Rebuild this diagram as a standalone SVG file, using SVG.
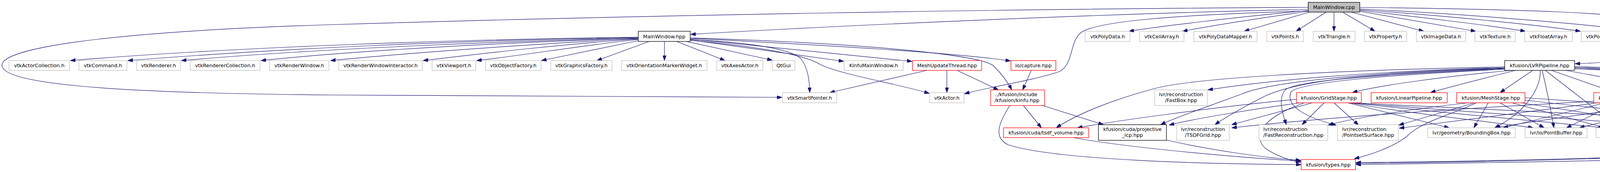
<svg xmlns="http://www.w3.org/2000/svg" width="5042" height="440" viewBox="0 0 5042 440">
<style>
rect{stroke-width:1.3}
.g rect{fill:#fff;stroke:#bfbfbf}
.r rect{fill:#fff;stroke:#ff0000}
.b rect{fill:#fff;stroke:#000}
.root rect{fill:#bfbfbf;stroke:#000}
text{font-family:"DejaVu Sans","Liberation Sans",sans-serif;font-size:12.8px;fill:#000;text-anchor:middle}
text.l{text-anchor:start}
#edges path{fill:none;stroke:#191970;stroke-width:1.2;marker-end:url(#a)}
</style>
<defs>
<marker id="a" markerWidth="13" markerHeight="9" refX="13" refY="4.5" orient="auto" markerUnits="userSpaceOnUse">
<path d="M0,0 L13,4.5 L0,9 z" fill="#191970" stroke="#191970" stroke-width="1"/>
</marker>
</defs>
<rect width="5042" height="440" fill="#fff"/>
<g id="edges">
<path d="M3349,24 C2900,33 2200,62 1768,88"/>
<path d="M3349,19 C2600,22 1600,40 850,63 C250,82 5,125 5,167 C5,212 250,238 850,243 C1300,247 1700,249 2002,249"/>
<path d="M3349,28 C3000,38 2800,55 2765,85 C2738,110 2748,165 2712,183 C2650,205 2520,225 2469,240"/>
<path d="M3349,27 C3150,45 2950,70 2890,80"/>
<path d="M3349,29 C3200,50 3080,70 3027,80"/>
<path d="M3352,31 L3185,80"/>
<path d="M3395,31 L3318,80"/>
<path d="M3415,31 L3415,80"/>
<path d="M3437,31 L3520,80"/>
<path d="M3459,31 L3645,80"/>
<path d="M3481,29 L3778,80"/>
<path d="M3481,27 C3650,45 3850,70 3905,80"/>
<path d="M3481,25 C3700,40 3950,65 4046,80"/>
<path d="M3481,23 C3750,35 4100,65 4192,80"/>
<path d="M3481,19 C3900,24 4150,32 4250,55 C4330,75 4330,115 4250,140 C4180,155 4080,162 4032,163"/>
<path d="M1634,95 C1200,100 600,120 180,155"/>
<path d="M1634,96 C1200,102 700,125 327,155"/>
<path d="M1634,97 C1300,105 800,125 464,155"/>
<path d="M1634,98 C1300,108 900,130 668,155"/>
<path d="M1634,99 C1400,110 1050,135 846,155"/>
<path d="M1634,100 C1450,112 1250,135 1083,155"/>
<path d="M1634,101 C1500,115 1350,140 1220,155"/>
<path d="M1634,104 L1386,155"/>
<path d="M1662,106 L1528,155"/>
<path d="M1701,106 L1701,155"/>
<path d="M1732,106 L1856,155"/>
<path d="M1757,106 L1977,154"/>
<path d="M1767,102 L2160,157"/>
<path d="M1767,100 L2335,157"/>
<path d="M1767,98 C2100,115 2450,135 2587,156"/>
<path d="M1767,97 C2200,110 2520,140 2545,170 C2565,190 2580,210 2590,230"/>
<path d="M1767,101 C1950,110 2030,130 2050,150 C2070,175 2072,210 2073,237"/>
<path d="M1767,103 C1950,120 2060,140 2100,165 C2150,190 2300,215 2379,239"/>
<path d="M2373,180 L2124,237"/>
<path d="M2424,180 L2424,237"/>
<path d="M2450,180 L2556,230"/>
<path d="M2640,180 L2618,230"/>
<path d="M2620,270 L2666,327"/>
<path d="M2669,270 L2825,319"/>
<path d="M2585,270 C2560,310 2540,350 2580,370 C2700,410 3100,420 3331,421"/>
<path d="M2748,352 C2900,380 3200,405 3330,412"/>
<path d="M2986,358 C3100,385 3250,405 3330,410"/>
<path d="M3852,171 C3400,180 3050,200 2954,227 C2850,255 2760,290 2704,327"/>
<path d="M3852,173 C3500,183 3250,205 3092,230"/>
<path d="M3852,174 C3500,185 3250,210 3180,240 C3100,270 3010,300 2971,319"/>
<path d="M3852,175 C3500,188 3330,205 3240,245 C3180,275 3130,305 3110,319"/>
<path d="M3852,176 C3550,190 3320,205 3290,230 C3270,255 3285,295 3293,319"/>
<path d="M3852,177 C3550,192 3330,210 3305,235 C3290,270 3340,300 3421,320"/>
<path d="M3870,180 C3700,195 3520,220 3462,237"/>
<path d="M3880,180 C3800,200 3700,225 3662,237"/>
<path d="M3924,180 L3840,237"/>
<path d="M3943,180 C3945,230 3900,290 3826,327"/>
<path d="M3948,180 C3960,230 3970,280 3978,327"/>
<path d="M3956,180 L4146,327"/>
<path d="M3972,180 L4135,237"/>
<path d="M4008,180 L4323,237"/>
<path d="M4031,172 C4250,180 4450,200 4500,240 C4530,270 4470,305 4416,327"/>
<path d="M4031,174 C4300,185 4500,205 4540,235 C4580,265 4600,295 4614,319"/>
<path d="M4031,176 C4400,190 4700,240 4898,327"/>
<path d="M4031,170 C4500,185 5040,250 5040,327 C5040,345 5030,358 5015,363 C4900,395 4300,410 3471,421"/>
<path d="M3319,254 C3100,275 2850,310 2758,327"/>
<path d="M3330,263 C3200,280 3050,305 2993,320"/>
<path d="M3360,263 L3153,319"/>
<path d="M3390,263 L3333,319"/>
<path d="M3415,263 L3478,320"/>
<path d="M3450,263 L3710,327"/>
<path d="M3340,263 C3230,300 3205,350 3240,380 C3270,400 3300,410 3330,415"/>
<path d="M3455,263 C3600,290 3850,315 3925,327"/>
<path d="M3458,263 C3700,290 4000,315 4105,327"/>
<path d="M3460,263 C3800,290 4200,315 4300,327"/>
<path d="M3462,263 C3900,285 4400,305 4518,322"/>
<path d="M3760,263 C3600,280 3450,305 3400,320"/>
<path d="M3775,263 L3581,320"/>
<path d="M3780,263 C3700,300 3640,310 3600,350 C3560,380 3500,398 3467,406"/>
<path d="M3810,263 L3773,327"/>
<path d="M3840,263 L3953,327"/>
<path d="M3870,263 L4110,327"/>
<path d="M3894,263 L4303,327"/>
<path d="M3904,256 C4100,280 4400,305 4519,321"/>
<path d="M3904,250 C4200,270 4600,300 4846,327"/>
<path d="M4080,259 C3700,280 3400,300 3153,327"/>
<path d="M4090,263 L3582,328"/>
<path d="M4110,263 L3848,327"/>
<path d="M4140,263 L4010,327"/>
<path d="M4170,263 L4167,327"/>
<path d="M4200,263 L4353,327"/>
<path d="M4227,263 L4519,320"/>
<path d="M4235,263 C4300,280 4350,272 4500,272 C4650,275 4740,300 4744,340 C4745,355 4735,362 4720,366 C4550,395 4000,410 3471,416"/>
<path d="M4286,260 C4150,280 3950,305 3828,327"/>
<path d="M4300,263 L4043,327"/>
<path d="M4330,263 L4203,327"/>
<path d="M4387,263 L4387,327"/>
<path d="M4416,263 L4569,319"/>
<path d="M4485,263 C4620,285 4760,300 4766,340 C4768,355 4760,362 4745,366 C4550,395 4000,412 3471,418"/>
</g>
<g id="n0" class="root"><rect x="3349" y="6" width="132" height="25"/><text x="3415" y="23">MainWindow.cpp</text></g>
<g id="n1" class="b"><rect x="1634" y="80" width="133" height="26"/><text x="1700.5" y="97.5">MainWindow.hpp</text></g>
<g id="n2" class="g"><rect x="2778" y="80" width="115" height="26"/><text x="2835.5" y="97.5">vtkPolyData.h</text></g>
<g id="n3" class="g"><rect x="2917" y="80" width="114" height="26"/><text x="2974" y="97.5">vtkCellArray.h</text></g>
<g id="n4" class="g"><rect x="3056" y="80" width="162" height="26"/><text x="3137" y="97.5">vtkPolyDataMapper.h</text></g>
<g id="n5" class="g"><rect x="3243" y="80" width="94" height="26"/><text x="3290" y="97.5">vtkPoints.h</text></g>
<g id="n6" class="g"><rect x="3362" y="80" width="107" height="26"/><text x="3415.5" y="97.5">vtkTriangle.h</text></g>
<g id="n7" class="g"><rect x="3493" y="80" width="108" height="26"/><text x="3547" y="97.5">vtkProperty.h</text></g>
<g id="n8" class="g"><rect x="3626" y="80" width="126" height="26"/><text x="3689" y="97.5">vtkImageData.h</text></g>
<g id="n9" class="g"><rect x="3776" y="80" width="103" height="26"/><text x="3827.5" y="97.5">vtkTexture.h</text></g>
<g id="n10" class="g"><rect x="3903" y="80" width="122" height="26"/><text x="3964" y="97.5">vtkFloatArray.h</text></g>
<g id="n11" class="g"><rect x="4048" y="80" width="119" height="26"/><text x="4107.5" y="97.5">vtkPointData.h</text></g>
<g id="n12" class="g"><rect x="4191" y="80" width="110" height="26"/><text x="4246" y="97.5">vtkCellData.h</text></g>
<g id="n13" class="g"><rect x="23" y="155" width="155" height="25"/><text x="100.5" y="172">vtkActorCollection.h</text></g>
<g id="n14" class="g"><rect x="202" y="155" width="123" height="25"/><text x="263.5" y="172">vtkCommand.h</text></g>
<g id="n15" class="g"><rect x="350" y="155" width="112" height="25"/><text x="406" y="172">vtkRenderer.h</text></g>
<g id="n16" class="g"><rect x="487" y="155" width="179" height="25"/><text x="576.5" y="172">vtkRendererCollection.h</text></g>
<g id="n17" class="g"><rect x="690" y="155" width="152" height="25"/><text x="766" y="172">vtkRenderWindow.h</text></g>
<g id="n18" class="g"><rect x="867" y="155" width="214" height="25"/><text x="974" y="172">vtkRenderWindowInteractor.h</text></g>
<g id="n19" class="g"><rect x="1106" y="155" width="112" height="25"/><text x="1162" y="172">vtkViewport.h</text></g>
<g id="n20" class="g"><rect x="1243" y="155" width="142" height="25"/><text x="1314" y="172">vtkObjectFactory.h</text></g>
<g id="n21" class="g"><rect x="1410" y="155" width="157" height="25"/><text x="1488.5" y="172">vtkGraphicsFactory.h</text></g>
<g id="n22" class="g"><rect x="1591" y="155" width="219" height="25"/><text x="1700.5" y="172">vtkOrientationMarkerWidget.h</text></g>
<g id="n23" class="g"><rect x="1835" y="155" width="118" height="25"/><text x="1894" y="172">vtkAxesActor.h</text></g>
<g id="n24" class="g"><rect x="1977" y="155" width="58" height="25"/><text x="2006" y="172">QtGui</text></g>
<g id="n25" class="g"><rect x="2161" y="155" width="151" height="25"/><text x="2236.5" y="172">KinfuMainWindow.h</text></g>
<g id="n26" class="r"><rect x="2336" y="155" width="177" height="25"/><text x="2424.5" y="172">MeshUpdateThread.hpp</text></g>
<g id="n27" class="r"><rect x="2588" y="155" width="115" height="25"/><text x="2645.5" y="172">io/capture.hpp</text></g>
<g id="n28" class="b"><rect x="3852" y="155" width="179" height="25"/><text x="3941.5" y="172">kfusion/LVRPipeline.hpp</text></g>
<g id="n29" class="g"><rect x="2003" y="237" width="139" height="26"/><text x="2072.5" y="254.5">vtkSmartPointer.h</text></g>
<g id="n30" class="g"><rect x="2380" y="237" width="88" height="26"/><text x="2424" y="254.5">vtkActor.h</text></g>
<g id="n31" class="r"><rect x="2536" y="230" width="138" height="40"/><text class="l" x="2546" y="245.5">../kfusion/include</text><text class="l" x="2546" y="260.5">/kfusion/kinfu.hpp</text></g>
<g id="n32" class="g"><rect x="2956" y="230" width="135" height="40"/><text x="3023.5" y="245.5">lvr/reconstruction</text><text x="3023.5" y="260.5">/FastBox.hpp</text></g>
<g id="n33" class="r"><rect x="3319" y="237" width="166" height="26"/><text x="3402" y="254.5">kfusion/GridStage.hpp</text></g>
<g id="n34" class="r"><rect x="3510" y="237" width="195" height="26"/><text x="3607.5" y="254.5">kfusion/LinearPipeline.hpp</text></g>
<g id="n35" class="r"><rect x="3729" y="237" width="175" height="26"/><text x="3816.5" y="254.5">kfusion/MeshStage.hpp</text></g>
<g id="n36" class="r"><rect x="4080" y="237" width="182" height="26"/><text x="4171" y="254.5">kfusion/FusionStage.hpp</text></g>
<g id="n37" class="r"><rect x="4286" y="237" width="199" height="26"/><text x="4385.5" y="254.5">kfusion/OptimizeStage.hpp</text></g>
<g id="n38" class="r"><rect x="2569" y="327" width="218" height="25"/><text x="2678" y="344">kfusion/cuda/tsdf_volume.hpp</text></g>
<g id="n39" class="b"><rect x="2812" y="319" width="174" height="40"/><text x="2899" y="334.5">kfusion/cuda/projective</text><text x="2899" y="349.5">_icp.hpp</text></g>
<g id="n40" class="g"><rect x="3012" y="319" width="135" height="40"/><text x="3079.5" y="334.5">lvr/reconstruction</text><text x="3079.5" y="349.5">/TSDFGrid.hpp</text></g>
<g id="n41" class="g"><rect x="3223" y="319" width="176" height="40"/><text class="l" x="3234" y="334.5">lvr/reconstruction</text><text class="l" x="3234" y="349.5">/FastReconstruction.hpp</text></g>
<g id="n42" class="g"><rect x="3424" y="319" width="156" height="40"/><text class="l" x="3436" y="334.5">lvr/reconstruction</text><text class="l" x="3436" y="349.5">/PointsetSurface.hpp</text></g>
<g id="n43" class="g"><rect x="3655" y="327" width="224" height="25"/><text x="3767" y="344">lvr/geometry/BoundingBox.hpp</text></g>
<g id="n44" class="g"><rect x="3904" y="327" width="159" height="25"/><text x="3983.5" y="344">lvr/io/PointBuffer.hpp</text></g>
<g id="n45" class="g"><rect x="4086" y="327" width="156" height="25"/><text x="4164" y="344">lvr/io/DataStruct.hpp</text></g>
<g id="n46" class="g"><rect x="4267" y="327" width="238" height="25"/><text x="4386" y="344">lvr/geometry/HalfEdgeVertex.hpp</text></g>
<g id="n47" class="g"><rect x="4530" y="319" width="192" height="40"/><text x="4626" y="334.5">lvr/geometry/HalfEdgeKin</text><text x="4626" y="349.5">FuMesh.hpp</text></g>
<g id="n48" class="g"><rect x="4847" y="327" width="162" height="25"/><text x="4928" y="344">lvr/io/Timestamp.hpp</text></g>
<g id="n49" class="r"><rect x="3331" y="408" width="139" height="26"/><text x="3400.5" y="425.5">kfusion/types.hpp</text></g>
</svg>
